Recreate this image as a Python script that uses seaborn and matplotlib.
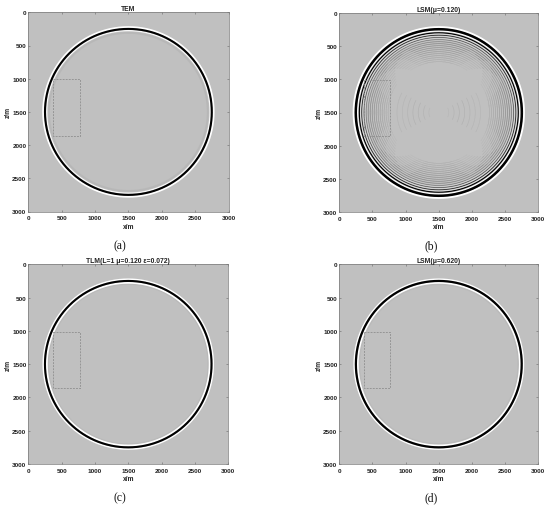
import numpy as np
import pandas as pd
import seaborn as sns
import matplotlib
matplotlib.use("Agg")
import matplotlib.pyplot as plt

sns.set_style("white")
plt.rcParams['font.family'] = ['Liberation Sans', 'DejaVu Sans']

W, H = 550, 510
BG = '#c0c0c0'
titles = ['TEM', 'LSM(μ=0.120)', 'TLM(L=1 μ=0.120 ε=0.072)', 'LSM(μ=0.620)']
captions = ['(a)', '(b)', '(c)', '(d)']
tick_vals = [0, 500, 1000, 1500, 2000, 2500, 3000]
box_x = [370, 770, 770, 370, 370]
box_z = [1010, 1010, 1860, 1860, 1010]

# ring radius (m), colour, width (pt), opacity
rings_a = [(1190, '#aeaeae', 1.4, 0.45), (1276, '#ffffff', 1.5, 1), (1224, '#ffffff', 0.9, 0.9), (1250, '#000000', 1.5, 1)]
rings_c = [(1200, '#b0b0b0', 1.0, 0.4), (1276, '#ffffff', 1.1, 1), (1222, '#ffffff', 1.3, 1), (1250, '#000000', 1.5, 1)]
rings_d = [(1196, '#b2b2b2', 1.0, 0.4), (1276, '#ffffff', 1.1, 1), (1222, '#ffffff', 1.3, 1), (1250, '#000000', 1.6, 1)]
rings_b = [(1282, '#ffffff', 1.6, 1), (1224, '#ffffff', 0.9, 1), (1252, '#000000', 1.8, 1),
           (1198, '#000000', 0.85, 1), (1162, '#000000', 0.6, 0.8), (1128, '#000000', 0.5, 0.6),
           (1096, '#000000', 0.45, 0.42), (1180, '#ffffff', 0.5, 0.6), (1145, '#ffffff', 0.5, 0.45),
           (1112, '#ffffff', 0.5, 0.3)]
# fading arcs in (b): radius, opacity, half span in degrees
arc_radii = [1064, 1034, 1004, 974, 944, 914, 884, 854, 824, 794, 764]
arc_alpha = [0.36, 0.34, 0.30, 0.27, 0.24, 0.21, 0.18, 0.15, 0.13, 0.11, 0.09]
arc_half_span = [62, 58, 54, 50, 46, 44, 42, 40, 38, 36, 34]
arc_centres = [0, 90, 180, 270]
span_steps = [0.45, 0.7, 1.0]
faint_radii = [150, 230, 310, 390, 470, 550, 630]
faint_alpha = [0.04, 0.06, 0.07, 0.07, 0.06, 0.05, 0.05]
faint_centres = [0, 180]
CX, CZ = 1500, 1500
rings = [rings_a, rings_b, rings_c, rings_d]
# axes boxes in pixels: left, top, right, bottom
boxes = [(28.3, 13.3, 228.5, 212.5), (339.3, 13.7, 538.3, 213.3), (28.3, 265.3, 228.2, 465), (339.3, 265.3, 538.3, 465)]
cap_xy = [(120, 246), (431, 246), (120, 498), (431, 498)]


def arc(ax, r, color, lw, alpha, start=0, end=360):
    t = np.deg2rad(np.arange(start, end + 1, 1.0))
    df = pd.DataFrame({'x': CX + r * np.cos(t), 'z': CZ + r * np.sin(t), 'o': np.arange(len(t))})
    sns.lineplot(data=df, x='x', y='z', sort=False, estimator=None, color=color,
                 linewidth=lw, alpha=alpha, ax=ax, legend=False, solid_capstyle='butt')


fig = plt.figure(figsize=(W / 100, H / 100), dpi=100, facecolor='white')
for i in range(4):
    l, t, r, b = boxes[i]
    ax = fig.add_axes([l / W, 1 - b / H, (r - l) / W, (b - t) / H])
    ax.set_facecolor(BG)
    if i == 1:
        for rad, al in zip(faint_radii, faint_alpha):
            for c in faint_centres:
                arc(ax, rad, '#000000', 0.5, al, c - 28, c + 28)
        for rad, al, hs in zip(arc_radii, arc_alpha, arc_half_span):
            for c in arc_centres:
                for st in span_steps:
                    arc(ax, rad, '#000000', 0.45, al / len(span_steps), c - hs * st, c + hs * st)
    for rad, col, lw, al in rings[i]:
        arc(ax, rad, col, lw, al)
    sns.lineplot(x=box_x, y=box_z, sort=False, estimator=None, color='#8a8a8a', linewidth=0.55,
                 linestyle=(0, (2.5, 1.5)), ax=ax, legend=False)
    ax.set_xlim(0, 3000)
    ax.set_ylim(3000, 0)
    ax.set_xticks(tick_vals)
    ax.set_yticks(tick_vals)
    ax.set_xticklabels([str(v) for v in tick_vals], fontsize=4.6, fontweight='bold', color='#222222')
    ax.set_yticklabels([str(v) for v in tick_vals], fontsize=4.6, fontweight='bold', color='#222222')
    ax.tick_params(direction='in', length=1.5, width=0.4, color='#666666', top=True, right=True,
                   bottom=True, left=True)
    ax.tick_params(axis='x', pad=2.6)
    ax.tick_params(axis='y', pad=1.4)
    ax.set_xlabel('x/m', fontsize=4.8, fontweight='bold', color='#222222', labelpad=1.8)
    ax.set_ylabel('z/m', fontsize=4.8, fontweight='bold', color='#222222', labelpad=0.2)
    ax.set_title(titles[i], fontsize=4.9, fontweight='bold', color='#222222', pad=1.5)
    for s in ax.spines.values():
        s.set_visible(True)
        s.set_linewidth(0.5)
        s.set_color('#777777')
    fig.text(cap_xy[i][0] / W, 1 - cap_xy[i][1] / H, captions[i], fontsize=8.4, ha='center', va='center',
             family='Liberation Serif', color='#111111')

fig.savefig('out.png', dpi=100)
